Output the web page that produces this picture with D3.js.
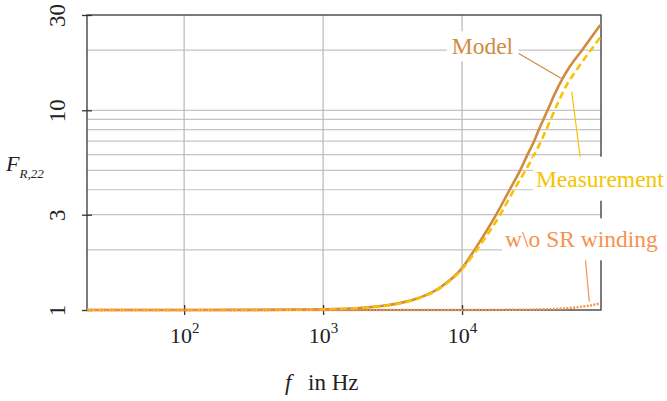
<!DOCTYPE html>
<html>
<head>
<meta charset="utf-8">
<script src="https://cdn.jsdelivr.net/npm/d3@7"></script>
<style>
  body { margin: 0; background: #fff; }
</style>
</head>
<body>
<div id="chart"></div>
<script>
// values
const modelFreq   = [20, 100, 300, 1000, 2000, 3500, 5000, 7000, 10000, 12300, 17600, 22000, 26200, 29600, 33000, 36000, 38800, 41800, 46670, 52840, 59840, 73000, 98700]
const modelValues = [1, 1, 1.001, 1.007, 1.028, 1.08, 1.155, 1.30, 1.62, 2.0, 3.0, 4.0, 5.0, 6.0, 7.0, 8.1, 9.1, 10.2, 12.15, 14.4, 16.6, 20.0, 26.7]

const measFreq   = [20, 100, 300, 1000, 2000, 3500, 5000, 7000, 10000, 12740, 18790, 23660, 28620, 36400, 49050, 56000, 65000, 95600, 98700]
const measValues = [1, 1, 1.001, 1.007, 1.027, 1.075, 1.15, 1.29, 1.60, 2.0, 3.0, 4.0, 5.0, 6.83, 10.9, 13.2, 15.5, 22.5, 23.2]

const woFreq   = [20, 1000, 10000, 20000, 40000, 50000, 70000, 85000, 98700]
const woValues = [1, 1, 1, 1.002, 1.008, 1.015, 1.035, 1.055, 1.08]

const xTickValues = [100, 1000, 10000]
const xTickExponents = ["2", "3", "4"]
const yTickValues = [1, 3, 10, 30]

const modelColor = "#d08b40"
const measColor = "#f7c300"
const woColor = "#f8914f"
const serif = '"Liberation Serif", "Times New Roman", serif'

const width = 667, height = 401
const margin = { top: 15, right: 66, bottom: 91, left: 87 }

const svg = d3.select("#chart")
    .append("svg")
    .attr("width", width)
    .attr("height", height)

const x = d3.scaleLog().domain([20, 1e5]).range([margin.left, width - margin.right])
const y = d3.scaleLog().domain([1, 30]).range([height - margin.bottom, margin.top])

// grid
const grid = svg.append("g")
grid.selectAll("line.h")
    .data(y.ticks().filter(v => v > 1 && v < 30))
    .join("line")
    .attr("class", "h")
    .attr("x1", margin.left).attr("x2", width - margin.right)
    .attr("y1", d => y(d)).attr("y2", d => y(d))
    .attr("stroke", "#c4c4c4")
    .attr("stroke-width", 1.2)

grid.selectAll("line.v")
    .data(xTickValues)
    .join("line")
    .attr("class", "v")
    .attr("x1", d => x(d)).attr("x2", d => x(d))
    .attr("y1", margin.top).attr("y2", height - margin.bottom)
    .attr("stroke", "#b8b8b8")
    .attr("stroke-width", 1.2)

// frame
svg.append("rect")
    .attr("x", margin.left)
    .attr("y", margin.top)
    .attr("width", width - margin.left - margin.right)
    .attr("height", height - margin.top - margin.bottom)
    .attr("fill", "none")
    .attr("stroke", "#444")
    .attr("stroke-width", 1.4)

// x axis
const gx = svg.append("g")
    .attr("transform", `translate(0,${y(1)})`)
    .call(d3.axisBottom(x).tickValues(xTickValues).tickSize(5).tickFormat(() => ""))
gx.select(".domain").remove()
gx.selectAll(".tick line").attr("y1", -5).attr("y2", 5).attr("stroke", "#333").attr("stroke-width", 1.3)
gx.selectAll(".tick text").remove()
gx.selectAll(".tick").each(function(d, i) {
  const t = d3.select(this).append("text")
      .attr("y", 33)
      .attr("fill", "#222")
      .attr("text-anchor", "middle")
      .style("font-family", serif)
      .style("font-size", "22px")
  t.append("tspan").text("10")
  t.append("tspan").attr("dy", -10).style("font-size", "15px").text(xTickExponents[i])
})

// y axis
const gy = svg.append("g")
    .attr("transform", `translate(${x(20)},0)`)
    .call(d3.axisLeft(y).tickValues(yTickValues).tickSize(5).tickFormat(() => ""))
gy.select(".domain").remove()
gy.selectAll(".tick line").attr("x1", -5).attr("x2", 5).attr("stroke", "#333").attr("stroke-width", 1.3)
gy.selectAll(".tick text").remove()
gy.selectAll(".tick").append("text")
    .attr("transform", "translate(-22,0) rotate(-90)")
    .attr("text-anchor", "middle")
    .attr("fill", "#222")
    .style("font-family", serif)
    .style("font-size", "23px")
    .text(d => d)

// axis titles
const xTitle = svg.append("text")
    .attr("x", 285)
    .attr("y", 390)
    .attr("fill", "#222")
    .style("font-family", serif)
    .style("font-size", "23px")
xTitle.append("tspan").style("font-style", "italic").text("f")
xTitle.append("tspan").attr("x", 308).text("in Hz")

const yTitle = svg.append("text")
    .attr("x", 6)
    .attr("y", 171)
    .attr("fill", "#222")
    .style("font-family", serif)
    .style("font-style", "italic")
    .style("font-size", "22px")
yTitle.append("tspan").text("F")
yTitle.append("tspan").attr("dy", 7).style("font-size", "13px").text("R,22")

// curves
const line = d3.line()
    .x(d => x(d[0]))
    .y(d => y(d[1]))
    .curve(d3.curveMonotoneX)

svg.append("path")
    .datum(d3.zip(modelFreq, modelValues))
    .attr("d", line)
    .attr("fill", "none")
    .attr("stroke", modelColor)
    .attr("stroke-width", 2.6)

svg.append("path")
    .datum(d3.zip(measFreq, measValues))
    .attr("d", line)
    .attr("fill", "none")
    .attr("stroke", measColor)
    .attr("stroke-width", 2.6)
    .attr("stroke-dasharray", "7,4")

svg.append("path")
    .datum(d3.zip(woFreq, woValues))
    .attr("d", line)
    .attr("fill", "none")
    .attr("stroke", woColor)
    .attr("stroke-width", 2.4)
    .attr("stroke-dasharray", "2,1.4")

// annotations (positions in data units)
const annotations = [
  { text: "Model", color: modelColor, at: [8430, 19.07], from: [25400, 19.29], to: [51540, 14.46], padX: 5, padY: 2 },
  { text: "Measurement", color: measColor, at: [34040, 4.144], from: [72400, 5.2], to: [61500, 12.39], padX: 3, padY: 9 },
  { text: "w\\o SR winding", color: woColor, at: [20380, 2.06], from: [76700, 1.886], to: [82400, 1.10], padX: 3, padY: 8 }
]

annotations.forEach(a => {
  svg.append("line")
      .attr("x1", x(a.from[0])).attr("y1", y(a.from[1]))
      .attr("x2", x(a.to[0])).attr("y2", y(a.to[1]))
      .attr("stroke", a.color)
      .attr("stroke-width", 1.2)

  const g = svg.append("g")
  const bg = g.append("rect").attr("fill", "#fff")
  const t = g.append("text")
      .attr("x", x(a.at[0]))
      .attr("y", y(a.at[1]))
      .attr("fill", a.color)
      .style("font-family", serif)
      .style("font-size", "23.5px")
      .text(a.text)
  const bb = t.node().getBBox()
  bg.attr("x", bb.x - a.padX)
    .attr("y", bb.y - a.padY)
    .attr("width", bb.width + 2 * a.padX)
    .attr("height", bb.height + 2 * a.padY)
})
</script>
</body>
</html>
